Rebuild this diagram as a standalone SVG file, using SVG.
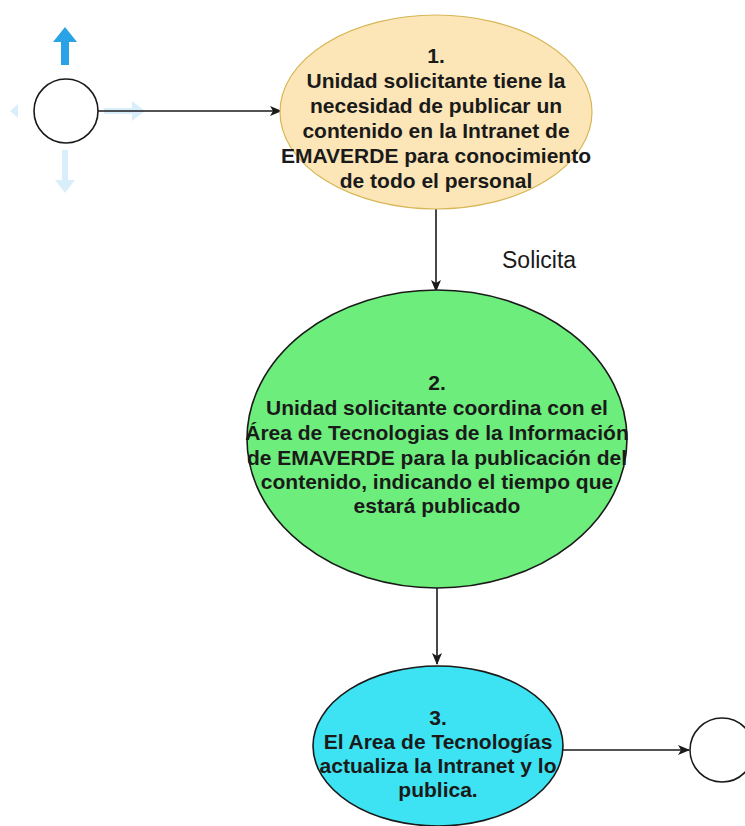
<svg xmlns="http://www.w3.org/2000/svg" width="745" height="826" viewBox="0 0 745 826">
<defs>
<style>
.t{font-family:"Liberation Sans",Arial,sans-serif;font-weight:bold;font-size:21px;text-anchor:middle;fill:#1a1a1a}
.lbl{font-family:"Liberation Sans",Arial,sans-serif;font-size:23px;fill:#1a1a1a}
.edge{fill:none;stroke:#1a1a1a;stroke-width:1.6}
.hint{fill:#29a3e6}
.faint{fill:#29a3e6;opacity:0.18}
</style>
<marker id="arr" viewBox="0 0 12 10" refX="11" refY="5" markerWidth="12" markerHeight="10" markerUnits="userSpaceOnUse" orient="auto">
<path d="M0,0 L12,5 L0,10 L3,5 z" fill="#1a1a1a"/>
</marker>
</defs>
<g id="hover-arrows">
<path class="hint" d="M65,27 L77,42 L69,42 L69,65 L61,65 L61,42 L53,42 z"/>
<path class="faint" d="M145,111 L132,101 L132,108 L104,108 L104,114 L132,114 L132,121 z"/>
<path class="faint" d="M65,193 L55,180 L62,180 L62,150 L68,150 L68,180 L75,180 z"/>
<path class="faint" d="M10,111 L18,104 L18,118 z"/>
</g>
<g id="connectors">
<path class="edge" d="M98,111 L281,111" marker-end="url(#arr)"/>
<path class="edge" d="M436,208 L436,291" marker-end="url(#arr)"/>
<text class="lbl" x="502" y="268">Solicita</text>
<path class="edge" d="M437,588 L437,664" marker-end="url(#arr)"/>
<path class="edge" d="M563,750 L689,750" marker-end="url(#arr)"/>
</g>
<g id="start">
<circle cx="66" cy="111" r="32" fill="#ffffff" stroke="#1a1a1a" stroke-width="1.6"/>
</g>
<g id="node1">
<ellipse cx="436" cy="112" rx="156" ry="97" fill="#fce6b7" stroke="#d6b656" stroke-width="1.2"/>
<text class="t" x="436" y="63">1.</text>
<text class="t" x="436" y="88">Unidad solicitante tiene la</text>
<text class="t" x="436" y="113">necesidad de publicar un</text>
<text class="t" x="436" y="138">contenido en la Intranet de</text>
<text class="t" x="436" y="163">EMAVERDE para conocimiento</text>
<text class="t" x="436" y="188">de todo el personal</text>
</g>
<g id="node2">
<ellipse cx="437" cy="439" rx="190" ry="149" fill="#6ded7b" stroke="#1a1a1a" stroke-width="1.6"/>
<text class="t" x="437" y="390">2.</text>
<text class="t" x="437" y="415">Unidad solicitante coordina con el</text>
<text class="t" x="437" y="440">Área de Tecnologias de la Información</text>
<text class="t" x="437" y="465">de EMAVERDE para la publicación del</text>
<text class="t" x="437" y="489">contenido, indicando el tiempo que</text>
<text class="t" x="437" y="513">estará publicado</text>
</g>
<g id="node3">
<ellipse cx="438" cy="746" rx="125" ry="80" fill="#3de3f2" stroke="#1a1a1a" stroke-width="1.6"/>
<text class="t" x="438" y="725">3.</text>
<text class="t" x="438" y="749">El Area de Tecnologías</text>
<text class="t" x="438" y="773">actualiza la Intranet y lo</text>
<text class="t" x="438" y="797">publica.</text>
</g>
<g id="end">
<circle cx="722" cy="750" r="32" fill="#ffffff" stroke="#1a1a1a" stroke-width="1.6"/>
</g>
</svg>
